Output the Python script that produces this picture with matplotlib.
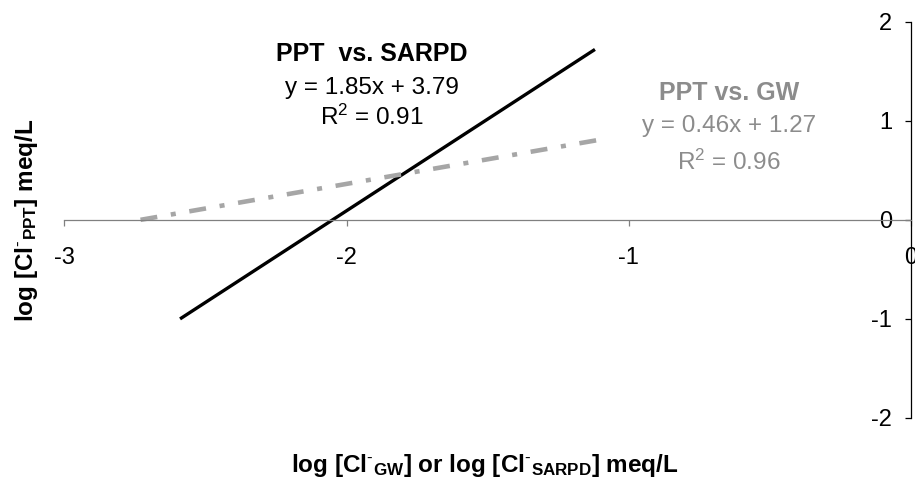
import matplotlib
matplotlib.use('Agg')
import matplotlib.pyplot as plt

plt.rcParams['font.family'] = 'Liberation Sans'
plt.rcParams['mathtext.fontset'] = 'custom'
plt.rcParams['mathtext.rm'] = 'Liberation Sans'
plt.rcParams['mathtext.bf'] = 'Liberation Sans:bold'
plt.rcParams['mathtext.default'] = 'rm'
plt.rcParams['axes.unicode_minus'] = False

# regression lines (log meq/L)
sarpd_x = [-2.59, -1.12]
sarpd_y = [-1.0, 1.72]
gw_x = [-2.73, -1.08]
gw_y = [0.0, 0.82]

x_ticks = [-3, -2, -1, 0]
y_ticks = [-2, -1, 0, 1, 2]

sarpd_text = ["PPT  vs. SARPD", "y = 1.85x + 3.79", "R$^2$ = 0.91"]
gw_text = ["PPT vs. GW", "y = 0.46x + 1.27", "R$^2$ = 0.96"]

gray = '#8c8c8c'

fig = plt.figure(figsize=(9.15, 4.83), dpi=100)
ax = fig.add_axes([0.0703, 0.1346, 0.9254, 0.8205])

ax.plot(sarpd_x, sarpd_y, color='black', lw=2.4, solid_capstyle='butt')
ax.plot(gw_x, gw_y, color='#a6a6a6', lw=3.3, dashes=(3.7, 3, 1.1, 3),
        dash_capstyle='butt')

ax.set_xlim(-3, 0)
ax.set_ylim(-2, 2)

# axes cross at the origin: y axis sits at x = 0 on the right edge
ax.spines['top'].set_visible(False)
ax.spines['right'].set_visible(False)
ax.spines['left'].set_position(('data', 0))
ax.spines['bottom'].set_position(('data', 0))
ax.spines['left'].set_color('black')
ax.spines['left'].set_linewidth(0.9)
ax.spines['bottom'].set_color('#808080')
ax.spines['bottom'].set_linewidth(0.9)

ax.set_xticks(x_ticks)
ax.set_xticklabels([str(t) for t in x_ticks])
ax.set_yticks(y_ticks)
ax.set_yticklabels([str(t) for t in y_ticks])
ax.tick_params(axis='x', direction='out', length=4.5, width=0.9, color='#808080',
               pad=15, labelsize=17)
ax.tick_params(axis='y', direction='out', length=4.5, width=0.9, color='black',
               pad=9, labelsize=17)

# equations
ax.text(-1.91, 1.608, sarpd_text[0], ha='center', va='baseline',
        fontsize=18, fontweight='bold', color='black')
ax.text(-1.91, 1.273, sarpd_text[1], ha='center', va='baseline',
        fontsize=17.5, color='black')
ax.text(-1.91, 0.955, sarpd_text[2], ha='center', va='baseline',
        fontsize=17.5, color='black')
ax.text(-0.645, 1.206, gw_text[0], ha='center', va='baseline',
        fontsize=18, fontweight='bold', color=gray)
ax.text(-0.645, 0.888, gw_text[1], ha='center', va='baseline',
        fontsize=17.5, color=gray)
ax.text(-0.645, 0.503, gw_text[2], ha='center', va='baseline',
        fontsize=17.5, color=gray)

fig.text(0.530, 0.0352,
         r"log [Cl$^{\text{-}}$$_{\mathbf{GW}}$] or log [Cl$^{\text{-}}$$_{\mathbf{SARPD}}$] meq/L",
         ha='center', va='center', fontsize=17.5, fontweight='bold')
fig.text(0.0295, 0.5445, r"log [Cl$^{\text{-}}$$_{\mathbf{PPT}}$] meq/L",
         ha='center', va='center', rotation=90, fontsize=17.5, fontweight='bold')

fig.savefig('out.png', dpi=100)
